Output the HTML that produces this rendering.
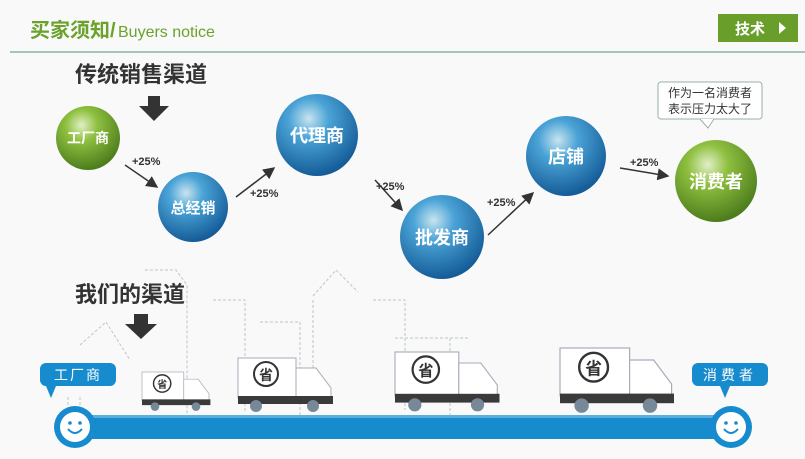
<!DOCTYPE html>
<html><head><meta charset="utf-8"><style>
body{margin:0;width:805px;height:454px;background:#f8f9f8;overflow:hidden;font-family:"Liberation Sans","Noto Sans CJK SC",sans-serif;}
</style></head><body>
<svg width="805" height="454" viewBox="0 0 805 454" xmlns="http://www.w3.org/2000/svg" font-family="Liberation Sans, Noto Sans CJK SC, sans-serif">
<defs>
<radialGradient id="gb" cx="40%" cy="30%" r="70%"><stop offset="0" stop-color="#c8e4ef"/><stop offset="0.35" stop-color="#4aa3d6"/><stop offset="1" stop-color="#155c98"/></radialGradient>
<radialGradient id="gg" cx="40%" cy="30%" r="70%"><stop offset="0" stop-color="#e2efc8"/><stop offset="0.35" stop-color="#8fc040"/><stop offset="1" stop-color="#4d7d1c"/></radialGradient>
<marker id="ar" markerWidth="8" markerHeight="8" refX="7" refY="4" orient="auto"><path d="M0,0 L8,4 L0,8z" fill="#333"/></marker>
</defs>
<text x="30" y="37" font-size="20" font-weight="bold" fill="#6aa22c">买家须知/</text>
<text x="118" y="37" font-size="16" fill="#6aa22c">Buyers notice</text>
<rect x="718" y="14" width="80" height="28" fill="#6a9e2b"/>
<text x="735" y="34" font-size="15" font-weight="bold" fill="#fff">技术</text>
<path d="M779,22 L786,28 L779,34z" fill="#fff"/>
<line x1="10" y1="52" x2="805" y2="52" stroke="#a8c4b8" stroke-width="2"/>
<text x="75" y="82" font-size="22" font-weight="bold" fill="#333">传统销售渠道</text>
<path d="M148,96 h12 v10 h9 l-15,15 l-15,-15 h9z" fill="#333"/>
<rect x="658" y="82" width="104" height="37" rx="3" fill="#fff" stroke="#9ab0a4"/>
<path d="M700,119 l8,9 l6,-9" fill="#fff" stroke="#9ab0a4"/>
<text x="710" y="97" font-size="12" fill="#333" text-anchor="middle">作为一名消费者</text>
<text x="710" y="113" font-size="12" fill="#333" text-anchor="middle">表示压力太大了</text>
<g font-weight="bold" fill="#fff" text-anchor="middle">
<circle cx="88" cy="138" r="32" fill="url(#gg)"/><text x="88" y="143" font-size="14">工厂商</text>
<circle cx="193" cy="207" r="35" fill="url(#gb)"/><text x="193" y="213" font-size="15">总经销</text>
<circle cx="317" cy="135" r="41" fill="url(#gb)"/><text x="317" y="142" font-size="18">代理商</text>
<circle cx="442" cy="237" r="42" fill="url(#gb)"/><text x="442" y="244" font-size="18">批发商</text>
<circle cx="566" cy="156" r="40" fill="url(#gb)"/><text x="566" y="163" font-size="18">店铺</text>
<circle cx="716" cy="181" r="41" fill="url(#gg)"/><text x="716" y="188" font-size="18">消费者</text>
</g>
<g stroke="#333" stroke-width="1.5" fill="none" marker-end="url(#ar)">
<line x1="125" y1="165" x2="157" y2="187"/>
<line x1="236" y1="197" x2="274" y2="168"/>
<line x1="375" y1="180" x2="402" y2="210"/>
<line x1="488" y1="235" x2="533" y2="193"/>
<line x1="620" y1="168" x2="668" y2="176"/>
</g>
<g font-size="11" font-weight="bold" fill="#333">
<text x="132" y="165">+25%</text><text x="250" y="197">+25%</text><text x="376" y="190">+25%</text><text x="487" y="206">+25%</text><text x="630" y="166">+25%</text>
</g>
<text x="75" y="302" font-size="22" font-weight="bold" fill="#333">我们的渠道</text>
<path d="M134,314 h14 v10 h9 l-16,15 l-16,-15 h9z" fill="#333"/>
<g stroke="#bcc8c4" stroke-width="1" stroke-dasharray="3,2" fill="none">
<path d="M68,410 V395 M80,410 L80,395 M80,345 L106,322 L130,360"/>
<path d="M145,270 H176 L187,285 V415"/>
<path d="M213,300 H245 V412"/>
<path d="M260,322 H300 V415"/>
<path d="M313,296 L336,270 L358,292"/>
<path d="M313,300 V412"/>
<path d="M373,300 H405 V410"/>
<path d="M395,338 H450 V420"/>
<path d="M425,338 H470"/>
</g>
<g>
<g transform="translate(142,372) scale(0.72)">
<rect x="0" y="0" width="58" height="40" fill="#fff" stroke="#aab"/>
<path d="M58,10 h20 l15,20 v14 h-35z" fill="#fff" stroke="#aab"/>
<rect x="0" y="38" width="95" height="8" fill="#3a3a3a"/>
<circle cx="18" cy="48" r="6" fill="#789"/><circle cx="75" cy="48" r="6" fill="#789"/>
<circle cx="28" cy="16" r="12" fill="#fff" stroke="#333" stroke-width="2"/>
<text x="28" y="22" font-size="14" font-weight="bold" text-anchor="middle" fill="#333">省</text>
</g>
<g transform="translate(238,358) scale(1)">
<rect x="0" y="0" width="58" height="40" fill="#fff" stroke="#aab"/>
<path d="M58,10 h20 l15,20 v14 h-35z" fill="#fff" stroke="#aab"/>
<rect x="0" y="38" width="95" height="8" fill="#3a3a3a"/>
<circle cx="18" cy="48" r="6" fill="#789"/><circle cx="75" cy="48" r="6" fill="#789"/>
<circle cx="28" cy="16" r="12" fill="#fff" stroke="#333" stroke-width="2"/>
<text x="28" y="22" font-size="14" font-weight="bold" text-anchor="middle" fill="#333">省</text>
</g>
<g transform="translate(395,352) scale(1.1)">
<rect x="0" y="0" width="58" height="40" fill="#fff" stroke="#aab"/>
<path d="M58,10 h20 l15,20 v14 h-35z" fill="#fff" stroke="#aab"/>
<rect x="0" y="38" width="95" height="8" fill="#3a3a3a"/>
<circle cx="18" cy="48" r="6" fill="#789"/><circle cx="75" cy="48" r="6" fill="#789"/>
<circle cx="28" cy="16" r="12" fill="#fff" stroke="#333" stroke-width="2"/>
<text x="28" y="22" font-size="14" font-weight="bold" text-anchor="middle" fill="#333">省</text>
</g>
<g transform="translate(560,348) scale(1.2)">
<rect x="0" y="0" width="58" height="40" fill="#fff" stroke="#aab"/>
<path d="M58,10 h20 l15,20 v14 h-35z" fill="#fff" stroke="#aab"/>
<rect x="0" y="38" width="95" height="8" fill="#3a3a3a"/>
<circle cx="18" cy="48" r="6" fill="#789"/><circle cx="75" cy="48" r="6" fill="#789"/>
<circle cx="28" cy="16" r="12" fill="#fff" stroke="#333" stroke-width="2"/>
<text x="28" y="22" font-size="14" font-weight="bold" text-anchor="middle" fill="#333">省</text>
</g>
</g>
<rect x="60" y="415" width="680" height="24" fill="#168bcd"/>
<rect x="60" y="415" width="680" height="3" fill="#5aaee0"/>
<g>
<circle cx="75" cy="427" r="21" fill="#168bcd"/><circle cx="75" cy="427" r="15" fill="#fff"/>
<circle cx="70" cy="423" r="1.8" fill="#168bcd"/><circle cx="80" cy="423" r="1.8" fill="#168bcd"/>
<path d="M68,429 q7,8 14,0" stroke="#168bcd" stroke-width="2" fill="none"/>
<circle cx="731" cy="427" r="21" fill="#168bcd"/><circle cx="731" cy="427" r="15" fill="#fff"/>
<circle cx="726" cy="423" r="1.8" fill="#168bcd"/><circle cx="736" cy="423" r="1.8" fill="#168bcd"/>
<path d="M724,429 q7,8 14,0" stroke="#168bcd" stroke-width="2" fill="none"/>
</g>
<rect x="40" y="363" width="76" height="23" rx="6" fill="#168bcd"/>
<path d="M46,386 l5,12 l5,-12z" fill="#168bcd"/>
<text x="78" y="380" font-size="14" fill="#fff" text-anchor="middle" letter-spacing="2">工厂商</text>
<rect x="692" y="363" width="76" height="23" rx="6" fill="#168bcd"/>
<path d="M720,386 l5,12 l5,-12z" fill="#168bcd"/>
<text x="730" y="380" font-size="14" fill="#fff" text-anchor="middle" letter-spacing="4">消费者</text>
</svg>
</body></html>
